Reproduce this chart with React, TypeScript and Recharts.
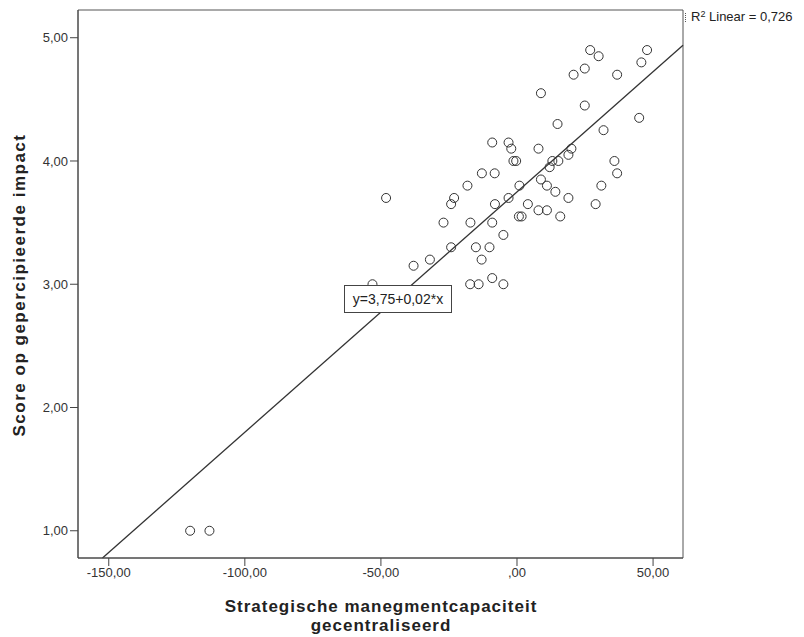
import { ScatterChart, Scatter, XAxis, YAxis, ReferenceLine, ReferenceArea } from 'recharts'

// strategische managementcapaciteit (gecentraliseerd)
const capacity = [
  26.9, 30.0, 47.8, 45.7, 24.9, 20.8, 36.8, 8.8, 24.9, 44.9,
  14.9, 31.8, -9.1, -3.1, -2.1, 7.9, 20.0, 18.9, -1.3, -0.3,
  13.0, 15.2, 35.8, 12.0, -12.9, -8.2, 36.8, 8.8, -18.2, 11.0,
  31.0, 0.9, 14.1, -48.1, -23.1, -3.1, 18.9, -24.2, -8.1, 4.0,
  28.9, 7.9, 11.0, 0.7, 1.7, 15.9, -27.0, -17.1, -9.1, -5.0,
  -24.2, -15.1, -10.1, -32.0, -13.0, -38.0, -9.1, -17.2, -14.1, -5.0,
  -53.1, -120.1, -113.0,
]

// score op gepercipieerde impact
const impact = [
  4.9, 4.85, 4.9, 4.8, 4.75, 4.7, 4.7, 4.55, 4.45, 4.35,
  4.3, 4.25, 4.15, 4.15, 4.1, 4.1, 4.1, 4.05, 4.0, 4.0,
  4.0, 4.0, 4.0, 3.95, 3.9, 3.9, 3.9, 3.85, 3.8, 3.8,
  3.8, 3.8, 3.75, 3.7, 3.7, 3.7, 3.7, 3.65, 3.65, 3.65,
  3.65, 3.6, 3.6, 3.55, 3.55, 3.55, 3.5, 3.5, 3.5, 3.4,
  3.3, 3.3, 3.3, 3.2, 3.2, 3.15, 3.05, 3.0, 3.0, 3.0,
  3.0, 1.0, 1.0,
]

const xTicks = [-150, -100, -50, 0, 50]
const yTicks = [1, 2, 3, 4, 5]

const X_MIN = -161.3
const X_MAX = 61
const Y_MIN = 0.779
const Y_MAX = 5.225

// fit line
const INTERCEPT = 3.749
const SLOPE = 0.0195
const R2 = '0,726'

const points = capacity.map((x, i) => ({ x, y: impact[i] }))

const fitStartX = Math.max(X_MIN, (Y_MIN - INTERCEPT) / SLOPE)
const fitSegment = [
  { x: fitStartX, y: INTERCEPT + SLOPE * fitStartX },
  { x: X_MAX, y: INTERCEPT + SLOPE * X_MAX },
]

const fmt = (v: number) => (v === 0 ? ',00' : v.toFixed(2).replace('.', ','))

const FONT = '"Liberation Sans", Arial, sans-serif'
const tickStyle = { fontSize: 13, fill: '#333', fontFamily: FONT }

function OpenCircle(props: any) {
  const { cx, cy } = props
  return <circle cx={cx} cy={cy} r={4.5} fill="none" stroke="#333" strokeWidth={1} />
}

export default function App() {
  return (
    <div style={{
      position: 'absolute', top: 0, left: 0, width: 804, height: 637,
      overflow: 'hidden', background: '#fff', fontFamily: FONT,
    }}>
      <ScatterChart width={804} height={637} margin={{ top: 10, right: 121, left: 18, bottom: 49 }}>
        <ReferenceArea x1={X_MIN} x2={X_MAX} y1={Y_MIN} y2={Y_MAX} fill="none" stroke="#555" strokeWidth={1} />
        <XAxis
          type="number"
          dataKey="x"
          domain={[X_MIN, X_MAX]}
          ticks={xTicks}
          tickFormatter={fmt}
          tick={tickStyle}
          tickSize={8}
          stroke="#444"
          height={30}
          allowDataOverflow
        />
        <YAxis
          type="number"
          dataKey="y"
          domain={[Y_MIN, Y_MAX]}
          ticks={yTicks}
          tickFormatter={fmt}
          tick={tickStyle}
          tickSize={8}
          stroke="#444"
          width={60}
          allowDataOverflow
        />
        <ReferenceLine segment={fitSegment} stroke="#333" strokeWidth={1.3} />
        <Scatter data={points} shape={<OpenCircle />} isAnimationActive={false} />
      </ScatterChart>

      <div style={{
        position: 'absolute', left: 344, top: 285, width: 106, height: 26,
        border: '1px solid #444', background: '#fff', fontSize: 14, lineHeight: '26px',
        textAlign: 'center', color: '#222',
      }}>
        y=3,75+0,02*x
      </div>

      <div style={{ position: 'absolute', left: 685, top: 13, height: 9, borderLeft: '1px dotted #555' }} />
      <div style={{ position: 'absolute', left: 691, top: 9, fontSize: 13, color: '#222', whiteSpace: 'nowrap' }}>
        R<sup style={{ fontSize: 9, verticalAlign: 'top', lineHeight: '10px' }}>2</sup> Linear = {R2}
      </div>

      <div style={{
        position: 'absolute', left: 131, top: 597, width: 500, textAlign: 'center',
        fontSize: 17, fontWeight: 'bold', lineHeight: '19px', letterSpacing: 1, color: '#222',
      }}>
        <div>Strategische manegmentcapaciteit</div>
        <div>gecentraliseerd</div>
      </div>

      <div style={{
        position: 'absolute', left: -230, top: 274, width: 500, height: 22, textAlign: 'center',
        fontSize: 17, fontWeight: 'bold', lineHeight: '22px', letterSpacing: 1.5, color: '#222',
        transform: 'rotate(-90deg)',
      }}>
        Score op gepercipieerde impact
      </div>
    </div>
  )
}
